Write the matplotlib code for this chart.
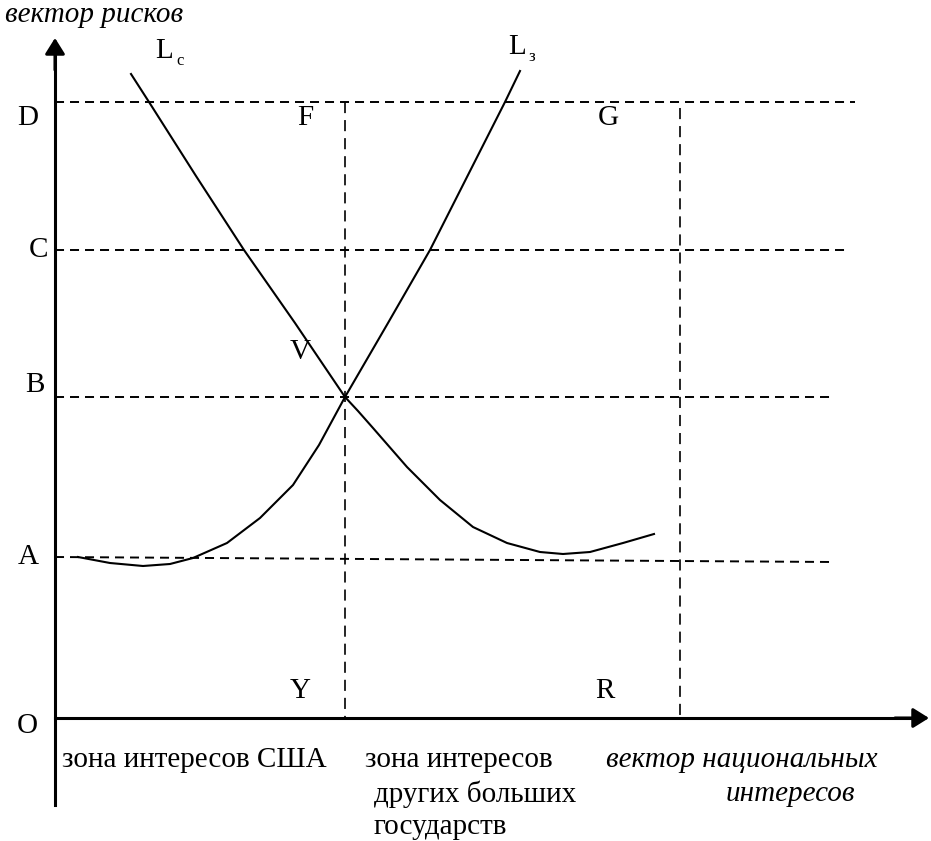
import matplotlib
matplotlib.use("Agg")
import matplotlib.pyplot as plt

plt.rcParams['font.family'] = ['Liberation Serif', 'DejaVu Serif']
plt.rcParams['lines.scale_dashes'] = False

# curve points (pixel coords, y downwards)
lc_x = [131, 149, 196, 244, 295, 345, 358, 373, 407, 440, 473, 507, 540, 563, 590, 623, 654]
lc_y = [74, 102, 176, 250, 323, 397, 411, 428, 467, 500, 527, 543, 552, 554, 552, 543, 534]
l3_x = [78, 110, 143, 170, 193, 227, 260, 293, 319, 345, 388, 430, 468, 505, 520]
l3_y = [557, 563, 566, 564, 558, 543, 518, 485, 445, 397, 323, 250, 175, 102, 71]

# horizontal dashed levels D, C, B, A: y at left, y at right, right end
level_y = [102, 250, 397, 557]
level_y_end = [102, 250, 397, 562]
level_x_end = [855, 845, 833, 833]
# vertical dashed zone borders
borders_x = [345, 680]
borders_top = [102, 108]

x0, y0 = 55, 718  # origin

fig = plt.figure(figsize=(9.31, 8.41), dpi=100)
ax = fig.add_axes([0, 0, 1, 1])
ax.set_xlim(0, 931)
ax.set_ylim(841, 0)
ax.axis('off')

dash = (0, (6.5, 4.3))
for yl, ye, xe in zip(level_y, level_y_end, level_x_end):
    ax.plot([x0, xe], [yl, ye], color='black', lw=1.4, linestyle=dash)
for xb, yt in zip(borders_x, borders_top):
    ax.plot([xb, xb], [yt, y0], color='black', lw=1.2, linestyle=(0, (8, 5)))

ax.plot(lc_x, lc_y, color='black', lw=1.5, solid_joinstyle='round')
ax.plot(l3_x, l3_y, color='black', lw=1.5, solid_joinstyle='round')

# axes with arrows
ax.plot([x0, x0], [805, 55], color='black', lw=2.2)
ax.plot([x0, 915], [y0, y0], color='black', lw=2.2)
head = dict(arrowstyle='-|>,head_length=0.8,head_width=0.5',
            color='black', lw=2.2, shrinkA=0, shrinkB=0, mutation_scale=12)
ax.annotate('', xy=(x0, 38), xytext=(x0, 70), arrowprops=head)
ax.annotate('', xy=(929, y0), xytext=(895, y0), arrowprops=head)

fs = 21
ax.text(5, 15, 'вектор рисков', fontsize=fs, style='italic', va='center', ha='left')
ax.text(155, 51, 'L', fontsize=fs, va='center', ha='left')
ax.text(176, 61, 'c', fontsize=12, va='center', ha='left')
ax.text(508, 47, 'L', fontsize=fs, va='center', ha='left')
ax.text(528, 57, 'з', fontsize=12, va='center', ha='left')

pts = {'D': (28, 118), 'F': (305, 118), 'G': (608, 118), 'C': (38, 250),
       'V': (300, 352), 'B': (35, 385), 'A': (28, 557), 'Y': (300, 691),
       'R': (605, 691), 'O': (27, 726)}
for name, (px, py) in pts.items():
    ax.text(px, py, name, fontsize=fs, va='center', ha='center')

ax.text(62, 760, 'зона интересов США', fontsize=fs, va='center', ha='left')
ax.text(365, 760, 'зона интересов', fontsize=fs, va='center', ha='left')
ax.text(374, 794, 'других больших', fontsize=fs, va='center', ha='left')
ax.text(374, 827, 'государств', fontsize=fs, va='center', ha='left')
ax.text(606, 760, 'вектор национальных', fontsize=fs, style='italic', va='center', ha='left')
ax.text(726, 794, 'интересов', fontsize=fs, style='italic', va='center', ha='left')

fig.savefig('out.png', dpi=100)
